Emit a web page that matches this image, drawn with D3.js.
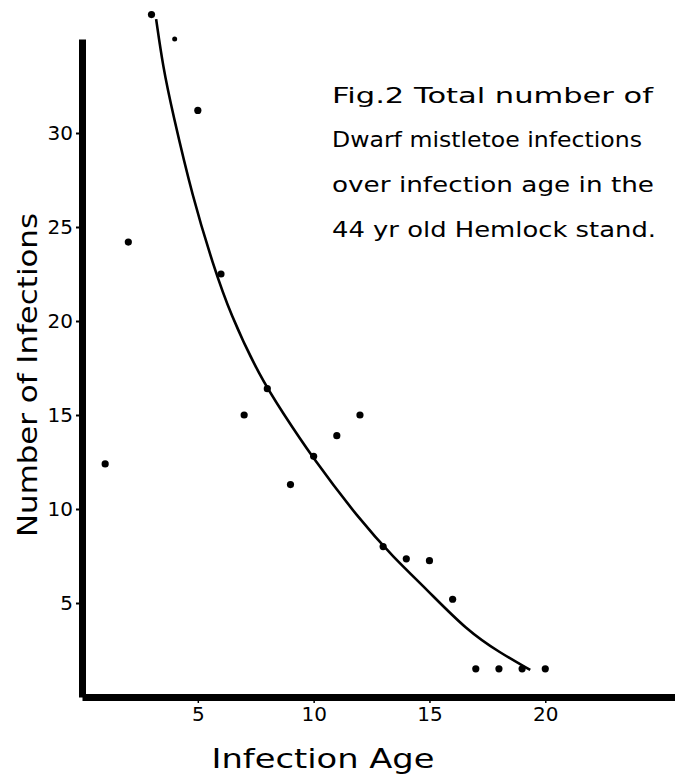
<!DOCTYPE html>
<html>
<head>
<meta charset="utf-8">
<script src="https://cdn.jsdelivr.net/npm/d3@7"></script>
<style>
  body { margin: 0; background: #fff; }
  text { font-family: "DejaVu Sans", sans-serif; fill: #000; }
</style>
</head>
<body>
<div id="chart"></div>
<script>
// observed points: infection age vs number of infections
var ages = [1, 2, 3, 4, 5, 6, 7, 8, 9, 10, 11, 12, 13, 14, 15, 16, 17, 18, 19, 20];
var counts = [12.4, 24.2, 36.3, 35.0, 31.2, 22.5, 15.0, 16.4, 11.3, 12.8, 13.9, 15.0, 8.0, 7.35, 7.25, 5.2, 1.5, 1.5, 1.5, 1.5];

// hand drawn fitted curve
var curveX = [3.2, 3.5, 3.89, 4.79, 5.66, 6.39, 7.69, 8.68, 9.85, 12, 13.43, 14.9, 16.6, 18.06, 19.35];
var curveY = [36.06, 33.5, 31.2, 26.5, 23.0, 20.4, 17.0, 15.1, 12.9, 9.4, 7.45, 5.7, 3.56, 2.34, 1.44];

var yTicks = [5, 10, 15, 20, 25, 30];
var xTicks = [5, 10, 15, 20];

var noteLines = [
  "Fig.2  Total number of",
  "Dwarf mistletoe infections",
  "over infection age in the",
  "44 yr old  Hemlock stand."
];

var width = 675,
  height = 781;

var x = d3.scaleLinear().domain([0, 25.6]).range([82, 675]);
var y = d3.scaleLinear().domain([0, 35]).range([697, 39]);

var svg = d3.select("#chart").append("svg")
  .attr("width", width)
  .attr("height", height);

// y axis
var yAxis = svg.append("g")
  .attr("transform", "translate(" + x(0) + ",0)")
  .call(d3.axisLeft(y).tickValues(yTicks).tickSize(6).tickSizeOuter(0).tickPadding(3));
yAxis.select(".domain").attr("stroke-width", 7);
yAxis.selectAll(".tick line").attr("stroke-width", 2);
yAxis.selectAll(".tick text").attr("font-size", 20);

// x axis
var xAxis = svg.append("g")
  .attr("transform", "translate(0," + y(0) + ")")
  .call(d3.axisBottom(x).tickValues(xTicks).tickSize(6).tickSizeOuter(0).tickPadding(4));
xAxis.select(".domain").attr("stroke-width", 7);
xAxis.selectAll(".tick line").attr("stroke-width", 1.5);
xAxis.selectAll(".tick text").attr("font-size", 20);

// the fitted curve
var curvePts = curveX.map(function (d, i) { return [d, curveY[i]]; });
svg.append("path")
  .datum(curvePts)
  .attr("fill", "none")
  .attr("stroke", "#000")
  .attr("stroke-width", 2.6)
  .attr("d", d3.line()
    .x(function (d) { return x(d[0]); })
    .y(function (d) { return y(d[1]); })
    .curve(d3.curveBasis));

// points
svg.selectAll(".pt")
  .data(ages)
  .enter()
  .append("circle")
  .attr("class", "pt")
  .attr("cx", function (d) { return x(d); })
  .attr("cy", function (d, i) { return y(counts[i]); })
  .attr("r", function (d) { return d === 4 ? 2.5 : 3.6; })
  .attr("fill", "#000");

// axis titles
svg.append("text")
  .attr("transform", "translate(37,375) rotate(-90)")
  .attr("text-anchor", "middle")
  .attr("font-size", 26)
  .attr("textLength", 324)
  .attr("lengthAdjust", "spacingAndGlyphs")
  .text("Number of Infections");

svg.append("text")
  .attr("x", 323)
  .attr("y", 768)
  .attr("text-anchor", "middle")
  .attr("font-size", 27)
  .attr("textLength", 223)
  .attr("lengthAdjust", "spacingAndGlyphs")
  .text("Infection Age");

// caption
var noteBase = [103, 147, 192, 237];
var noteLen = [321, 310, 322, 324];
svg.selectAll(".note")
  .data(noteLines)
  .enter()
  .append("text")
  .attr("class", "note")
  .attr("x", 332)
  .attr("y", function (d, i) { return noteBase[i]; })
  .attr("font-size", 22)
  .attr("textLength", function (d, i) { return noteLen[i]; })
  .attr("lengthAdjust", "spacingAndGlyphs")
  .text(function (d) { return d; });
</script>
</body>
</html>
